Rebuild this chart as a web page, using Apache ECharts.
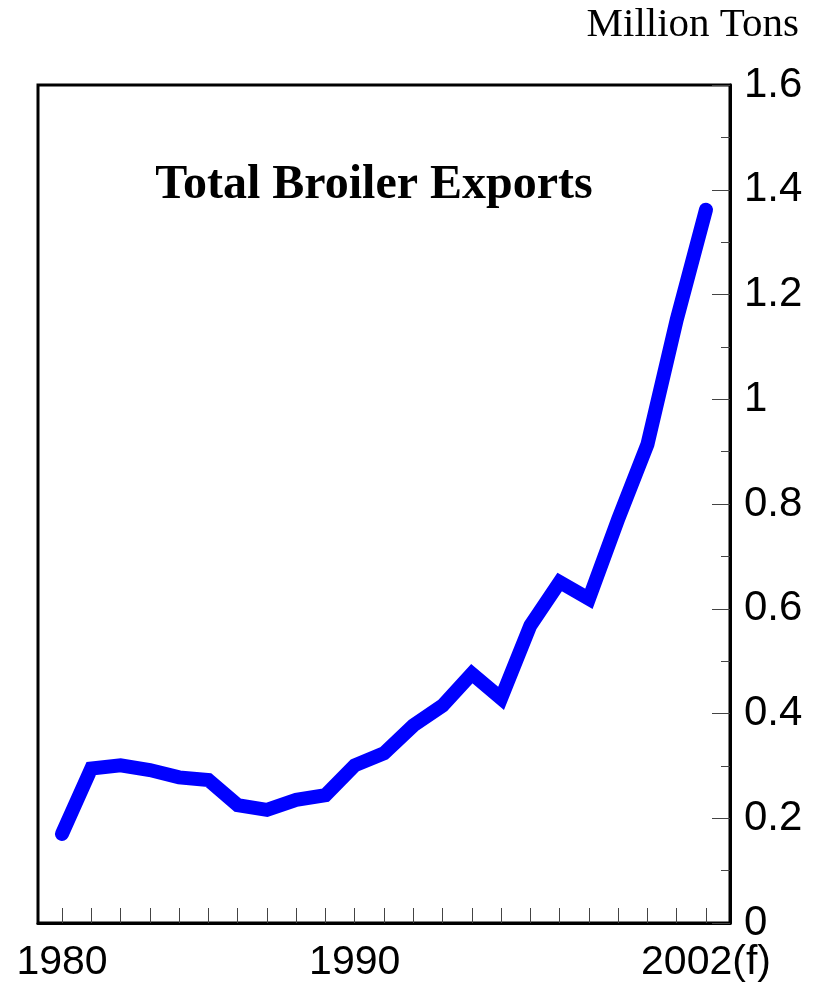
<!DOCTYPE html>
<html>
<head>
<meta charset="utf-8">
<script src="https://cdn.jsdelivr.net/npm/echarts@6/dist/echarts.min.js"></script>
<style>
  html, body { margin: 0; padding: 0; background: #fff; }
  #chart { width: 818px; height: 983px; }
</style>
</head>
<body>
<div id="chart"></div>
<script>
// broiler exports, million tons
const years = [1980, 1981, 1982, 1983, 1984, 1985, 1986, 1987, 1988, 1989, 1990,
  1991, 1992, 1993, 1994, 1995, 1996, 1997, 1998, 1999, 2000, 2001, 2002];
const exportsMt = [0.17, 0.295, 0.301, 0.292, 0.278, 0.273, 0.225, 0.216, 0.235, 0.244, 0.301,
  0.324, 0.377, 0.415, 0.476, 0.429, 0.568, 0.651, 0.619, 0.771, 0.914, 1.152, 1.362];
const yearLabels = [1980, 1990, 2002];

var chart = echarts.init(document.getElementById('chart'));

var option = {
  animation: false,
  backgroundColor: '#fff',
  title: [{
    text: 'Total Broiler Exports',
    left: 369, top: 157,
    textAlign: 'center',
    textStyle: { fontFamily: 'Liberation Serif', fontWeight: 'bold', fontSize: 48, color: '#000' }
  }, {
    text: 'Million Tons',
    right: 14, top: 0,
    textStyle: { fontFamily: 'Liberation Serif', fontWeight: 'normal', fontSize: 41, color: '#000' }
  }],
  grid: {
    left: 38, right: 88, top: 85, bottom: 58,
    show: true, borderColor: '#000', borderWidth: 3
  },
  xAxis: {
    type: 'value',
    min: 1979.18, max: 2002.82,
    splitLine: { show: false },
    axisLine: { show: true, lineStyle: { color: '#000', width: 3 } },
    axisTick: {
      show: true, inside: true, length: 15,
      customValues: years,
      lineStyle: { color: '#444', width: 1 }
    },
    axisLabel: {
      customValues: yearLabels,
      margin: 19,
      fontFamily: 'Liberation Sans', fontSize: 41, color: '#000',
      formatter: function (v) { return v === 2002 ? '2002(f)' : String(v); }
    }
  },
  yAxis: {
    type: 'value',
    position: 'right',
    min: 0, max: 1.6, interval: 0.2,
    splitLine: { show: false },
    axisLine: { show: true, lineStyle: { color: '#000', width: 3 } },
    axisTick: { show: true, inside: true, length: 18, lineStyle: { color: '#444', width: 1 } },
    minorTick: { show: true, splitNumber: 2, length: 9, lineStyle: { color: '#444', width: 1 } },
    axisLabel: {
      margin: 14,
      fontFamily: 'Liberation Sans', fontSize: 42, color: '#000',
      formatter: function (v) { return String(Math.round(v * 10) / 10); }
    }
  },
  series: [{
    type: 'line',
    data: years.map(function (y, i) { return [y, exportsMt[i]]; }),
    showSymbol: false,
    lineStyle: { color: '#0000ff', width: 14, cap: 'round', join: 'miter' }
  }]
};

chart.setOption(option);
</script>
</body>
</html>
